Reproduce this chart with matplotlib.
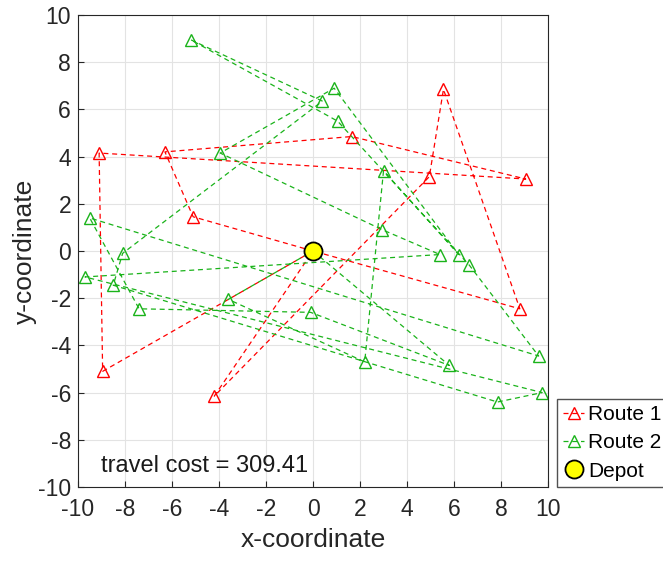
"""vehicle routing result plot"""
import matplotlib
matplotlib.use("Agg")
import matplotlib.pyplot as plt

DEPOT = (0.0, 0.0)

# route 1 (red), customers visited in order, depot at start/end of each trip
ROUTE1_X = [0, -5.1, -6.3, 1.65, 9.05, -9.1, -8.95, 0, 8.8, 5.55, 4.95, -4.2, 0]
ROUTE1_Y = [0, 1.45, 4.2, 4.85, 3.05, 4.15, -5.1, 0, -2.45, 6.85, 3.15, -6.15, 0]

# route 2 (green)
ROUTE2_X = [0, 5.8, -0.1, -7.4, -9.5, 9.6, 6.65, 1.05, -5.2, 0.4, -8.1, -8.5,
            7.85, 9.75, -9.7, 5.4, 2.95, -3.95, 0.9, 6.2, 3.0, 2.2, -3.6, 0]
ROUTE2_Y = [0, -4.85, -2.6, -2.45, 1.4, -4.45, -0.6, 5.5, 8.95, 6.35, -0.1, -1.45,
            -6.4, -6.0, -1.1, -0.15, 0.9, 4.15, 6.9, -0.15, 3.4, -4.7, -2.05, 0]

TRAVEL_COST = 309.41


def plot():
    """drawing the routes"""
    plt.rcParams['font.family'] = ['Liberation Sans', 'DejaVu Sans']
    plt.rcParams['axes.unicode_minus'] = False
    fig = plt.figure(figsize=(6.63, 5.62), dpi=100)
    ax = fig.add_axes([0.1176, 0.1335, 0.709, 0.8398])

    ax.plot(ROUTE1_X, ROUTE1_Y, '--^', color=(1, 0, 0), lw=0.9,
            markersize=9, markerfacecolor='none', markeredgewidth=1.0,
            label='Route 1', dashes=(4, 3))
    ax.plot(ROUTE2_X, ROUTE2_Y, '--^', color=(0.1, 0.7, 0.1), lw=0.9,
            markersize=9, markerfacecolor='none', markeredgewidth=1.0,
            label='Route 2', dashes=(4, 3))
    ax.plot(DEPOT[0], DEPOT[1], 'o', markersize=13, markerfacecolor='yellow',
            markeredgecolor='black', markeredgewidth=1.3, label='Depot',
            linestyle='none')

    ax.text(-9.0, -9.1, 'travel cost = %.2f' % TRAVEL_COST, fontsize=17,
            va='center', ha='left', color='#1a1a1a')

    ax.set_xlim(-10, 10)
    ax.set_ylim(-10, 10)
    ax.set_xticks(range(-10, 11, 2))
    ax.set_yticks(range(-10, 11, 2))
    ax.tick_params(labelsize=16.5, direction='in', length=4, pad=5,
                   colors='#262626')
    ax.tick_params(axis='x', pad=8)
    ax.grid(True, color='#e3e3e3', linewidth=0.8)
    ax.set_axisbelow(True)
    for side in ax.spines.values():
        side.set_color('#262626')
    ax.set_xlabel('x-coordinate', fontsize=19, color='#262626', labelpad=5)
    ax.set_ylabel('y-coordinate', fontsize=19, color='#262626', labelpad=1)

    fig.legend(loc='lower left', bbox_to_anchor=(0.84, 0.1335), fontsize=15,
               frameon=True, fancybox=False, edgecolor='#262626',
               handlelength=1.0, handletextpad=0.2, borderpad=0.3,
               labelspacing=0.45, borderaxespad=0.0)
    fig.savefig('out.png', dpi=100)


plot()
